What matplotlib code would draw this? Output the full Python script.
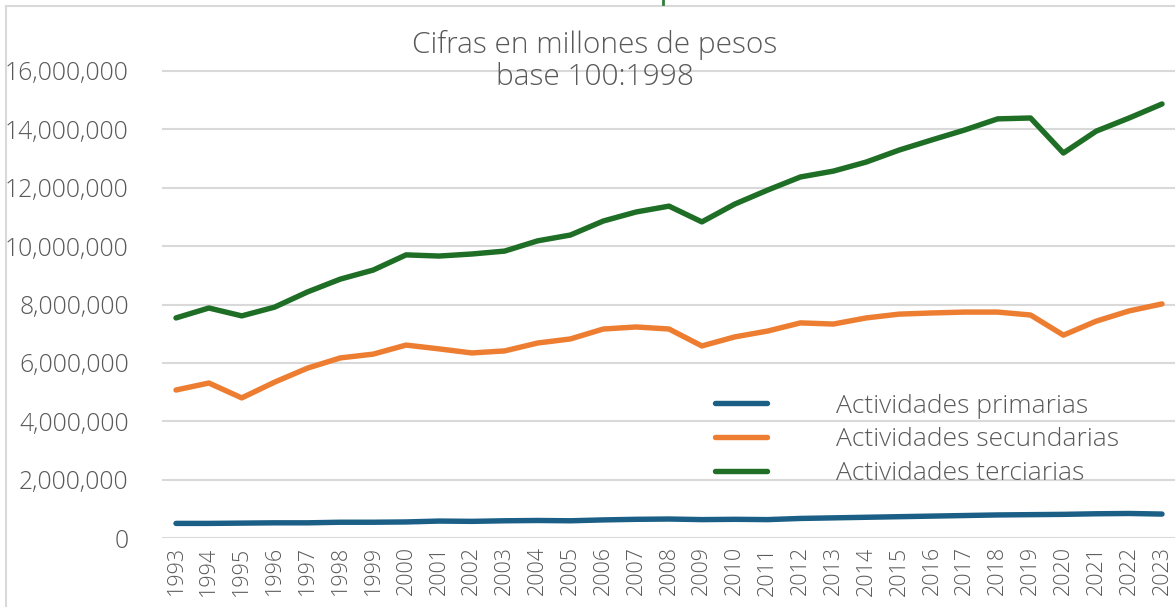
import matplotlib
matplotlib.use("Agg")
import matplotlib.pyplot as plt
from matplotlib.ticker import FuncFormatter
from matplotlib.lines import Line2D

years = list(range(1993, 2024))
primarias = [0.50, 0.50, 0.51, 0.52, 0.52, 0.54, 0.54, 0.55, 0.58, 0.57, 0.59, 0.60, 0.59, 0.62,
             0.64, 0.65, 0.63, 0.64, 0.63, 0.67, 0.69, 0.71, 0.73, 0.75, 0.77, 0.79, 0.80, 0.81,
             0.83, 0.84, 0.82]
secundarias = [5.07, 5.31, 4.80, 5.34, 5.82, 6.17, 6.30, 6.61, 6.48, 6.34, 6.41, 6.68, 6.82, 7.16,
               7.23, 7.16, 6.58, 6.89, 7.09, 7.37, 7.33, 7.54, 7.67, 7.71, 7.74, 7.74, 7.64, 6.95,
               7.43, 7.78, 8.02]
terciarias = [7.54, 7.88, 7.61, 7.91, 8.43, 8.87, 9.18, 9.70, 9.66, 9.73, 9.83, 10.18, 10.38, 10.86,
              11.17, 11.37, 10.83, 11.44, 11.92, 12.37, 12.57, 12.88, 13.29, 13.64, 13.98, 14.36,
              14.39, 13.19, 13.94, 14.39, 14.87]
series_names = ["Actividades primarias", "Actividades secundarias", "Actividades terciarias"]
colors = ["#1b5f86", "#ed7d31", "#1e6e25"]
title_text = "Cifras en millones de pesos\nbase 100:1998"

FONT = ["Open Sans", "DejaVu Sans"]
TXT = "#595959"
plt.rcParams['font.family'] = FONT

W, H = 1175, 607
fig = plt.figure(figsize=(W / 100, H / 100), dpi=100)
x0, x1 = 162, 1175
y_bottom, y_top = 538, 27
ax = fig.add_axes([x0 / W, 1 - y_bottom / H, (x1 - x0) / W, (y_bottom - y_top) / H])

xs = list(range(len(years)))
for vals, name, c in zip([primarias, secundarias, terciarias], series_names, colors):
    ax.plot(xs, [v * 1e6 for v in vals], color=c, lw=3.9, label=name,
            solid_capstyle='round', solid_joinstyle='round', zorder=3)

sp = (1162 - 176) / 30
ax.set_xlim(-(176 - x0) / sp, 30 + (x1 - 1162) / sp)
ax.set_ylim(0, 16e6 * (y_bottom - y_top) / (538 - 71))
ax.set_yticks([i * 2e6 for i in range(9)])
ax.yaxis.set_major_formatter(FuncFormatter(lambda v, p: f"{int(v):,}"))
ax.set_xticks(xs)
ax.set_xticklabels([str(y) for y in years], rotation=90)
ax.grid(axis='y', color='#d9d9d9', lw=1.5, zorder=0)
ax.set_axisbelow(True)
for s in ax.spines.values():
    s.set_visible(False)
ax.tick_params(axis='both', length=0, colors=TXT)
ax.tick_params(axis='y', labelsize=17.8, pad=24)
ax.tick_params(axis='x', labelsize=15.5, pad=6)
for lab in ax.get_yticklabels() + ax.get_xticklabels():
    lab.set_fontweight('light')

fig.text(595 / W, 1 - 30 / H, title_text, ha='center', va='top',
        fontsize=21.5, color=TXT, fontweight='light', linespacing=1.12)

leg = ax.legend(loc='upper left', bbox_to_anchor=((704 - x0) / (x1 - x0), (y_bottom - 383) / (y_bottom - y_top)),
                frameon=False, fontsize=19, handlelength=2.0, handletextpad=2.6,
                labelspacing=0.33, borderaxespad=0)
for t in leg.get_texts():
    t.set_color(TXT)
    t.set_fontweight('light')

# frame edges of the original image
fig.add_artist(Line2D([6 / W, 6 / W], [0, 1 - 6 / H], transform=fig.transFigure, color='#d9d9d9', lw=1.5))
fig.add_artist(Line2D([6 / W, 1], [1 - 6 / H, 1 - 6 / H], transform=fig.transFigure, color='#d9d9d9', lw=1.5))
fig.add_artist(Line2D([663 / W, 663 / W], [1 - 4 / H, 1], transform=fig.transFigure, color='#2e7d3a', lw=2))

fig.savefig("out.png", dpi=100)
